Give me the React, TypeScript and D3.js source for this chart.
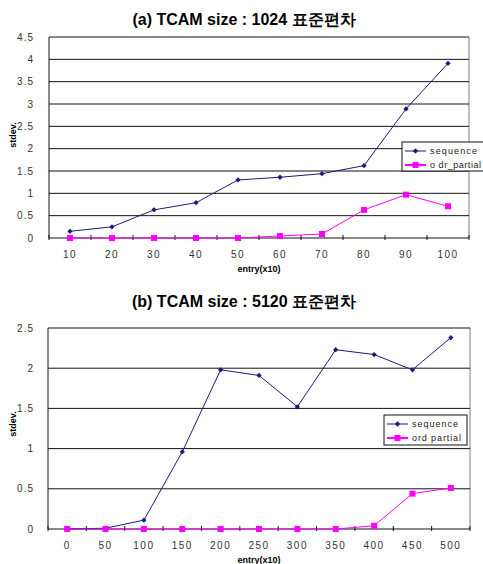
import * as d3 from 'd3';

// panel (a) : TCAM size 1024
const catsA = ['10', '20', '30', '40', '50', '60', '70', '80', '90', '100'];
const seqA = [0.15, 0.25, 0.63, 0.79, 1.3, 1.36, 1.44, 1.62, 2.89, 3.91];
const partA = [0, 0, 0, 0, 0, 0.045, 0.09, 0.63, 0.97, 0.71];
const ticksA = [0, 0.5, 1, 1.5, 2, 2.5, 3, 3.5, 4, 4.5];

// panel (b) : TCAM size 5120
const catsB = ['0', '50', '100', '150', '200', '250', '300', '350', '400', '450', '500'];
const seqB = [0, 0.01, 0.11, 0.96, 1.98, 1.91, 1.52, 2.23, 2.17, 1.98, 2.38];
const partB = [0, 0, 0, 0, 0, 0, 0, 0, 0.04, 0.44, 0.51];
const ticksB = [0, 0.5, 1, 1.5, 2, 2.5];

const NAVY = '#1b1b78';
const PINK = '#ff00ff';
const FONT = '"Liberation Sans", Arial, sans-serif';

type PanelProps = {
  title: string;
  cats: string[];
  seq: number[];
  part: number[];
  ticks: number[];
  partName: string;
  box: { left: number; right: number; top: number; bottom: number };
  titleY: number;
  tickLabelY: number;
  xLabelY: number;
  yLabelY: number;
  legend: { x: number; y: number; w: number; h: number; seqLen: number; partLen: number };
};

function Panel(p: PanelProps) {
  const x = d3.scaleBand<string>().domain(p.cats).range([p.box.left, p.box.right]).padding(0);
  const yMax = p.ticks[p.ticks.length - 1];
  const y = d3.scaleLinear().domain([0, yMax]).range([p.box.bottom, p.box.top]);
  const cx = (c: string) => (x(c) as number) + x.bandwidth() / 2;

  const line = d3.line<[string, number]>()
    .x(d => cx(d[0]))
    .y(d => y(d[1]));

  const seqPts: [string, number][] = p.cats.map((c, i) => [c, p.seq[i]]);
  const partPts: [string, number][] = p.cats.map((c, i) => [c, p.part[i]]);

  const diamond = d3.symbol().type(d3.symbolSquare).size(14)() as string;
  const boundaries = p.cats.map(c => x(c) as number).concat([p.box.right]);
  const L = p.legend;

  return (
    <g>
      <text x={244} y={p.titleY} textAnchor="middle"
        fontFamily={FONT} fontWeight="bold" fontSize={16}>{p.title}</text>

      {/* plot frame */}
      <line x1={p.box.right} x2={p.box.right} y1={p.box.top} y2={p.box.bottom} stroke="#808080" />
      {p.ticks.map(t => (
        <g key={t}>
          <line x1={p.box.left} x2={p.box.right} y1={y(t)} y2={y(t)} stroke="#111" strokeWidth={1} />
          <text x={34} y={y(t) + 3.5} textAnchor="end" fontFamily={FONT} fontSize={10}
            letterSpacing={1} fill="#333">{t}</text>
        </g>
      ))}
      <line x1={p.box.left} x2={p.box.left} y1={p.box.top} y2={p.box.bottom} stroke="#111" />
      {boundaries.map((b, i) => (
        <line key={i} x1={b} x2={b} y1={p.box.bottom - 3} y2={p.box.bottom + 2} stroke="#111" />
      ))}
      {p.cats.map(c => (
        <text key={c} x={cx(c)} y={p.tickLabelY} textAnchor="middle" fontFamily={FONT}
          fontSize={10} letterSpacing={1.5} fill="#333">{c}</text>
      ))}
      <text x={(p.box.left + p.box.right) / 2} y={p.xLabelY} textAnchor="middle"
        fontFamily={FONT} fontWeight="bold" fontSize={9}>entry(x10)</text>
      <text transform={`translate(16,${p.yLabelY}) rotate(-90)`} textAnchor="middle"
        fontFamily={FONT} fontWeight="bold" fontSize={9}>stdev.</text>

      {/* series */}
      <path d={line(seqPts) as string} fill="none" stroke={NAVY} strokeWidth={1} />
      {seqPts.map(d => (
        <path key={d[0]} d={diamond} transform={`translate(${cx(d[0])},${y(d[1])}) rotate(45)`} fill={NAVY} />
      ))}
      <path d={line(partPts) as string} fill="none" stroke={PINK} strokeWidth={1} />
      {partPts.map(d => (
        <rect key={d[0]} x={cx(d[0]) - 3} y={y(d[1]) - 3} width={6} height={6} fill={PINK} />
      ))}

      {/* legend */}
      <rect x={L.x} y={L.y} width={L.w} height={L.h} fill="#fff" stroke="#111" />
      <line x1={L.x + 3} x2={L.x + 24} y1={L.y + 9} y2={L.y + 9} stroke={NAVY} />
      <path d={diamond} transform={`translate(${L.x + 13.5},${L.y + 9}) rotate(45)`} fill={NAVY} />
      <text x={L.x + 28} y={L.y + 12} fontFamily={FONT} fontSize={9} textLength={L.seqLen}
        lengthAdjust="spacing" fill="#222">sequence</text>
      <line x1={L.x + 3} x2={L.x + 24} y1={L.y + 23} y2={L.y + 23} stroke={PINK} strokeWidth={2} />
      <rect x={L.x + 10.5} y={L.y + 20} width={6} height={6} fill={PINK} />
      <text x={L.x + 28} y={L.y + 26} fontFamily={FONT} fontSize={9} textLength={L.partLen}
        lengthAdjust="spacing" fill="#222">{p.partName}</text>
    </g>
  );
}

export default function App() {
  return (
    <svg width={483} height={564} style={{ position: 'absolute', left: 0, top: 0, background: '#fff' }}>
      <Panel title="(a) TCAM size : 1024 표준편차" cats={catsA} seq={seqA} part={partA} ticks={ticksA}
        partName="o dr_partial" box={{ left: 49, right: 469, top: 37, bottom: 238 }}
        titleY={25} tickLabelY={258} xLabelY={272} yLabelY={135}
        legend={{ x: 402, y: 142, w: 90, h: 29, seqLen: 47, partLen: 51 }} />
      <Panel title="(b) TCAM size : 5120 표준편차" cats={catsB} seq={seqB} part={partB} ticks={ticksB}
        partName="ord partial" box={{ left: 48, right: 470, top: 328, bottom: 529 }}
        titleY={307} tickLabelY={549} xLabelY={563} yLabelY={424}
        legend={{ x: 384, y: 415, w: 83, h: 30, seqLen: 46, partLen: 49 }} />
    </svg>
  );
}
